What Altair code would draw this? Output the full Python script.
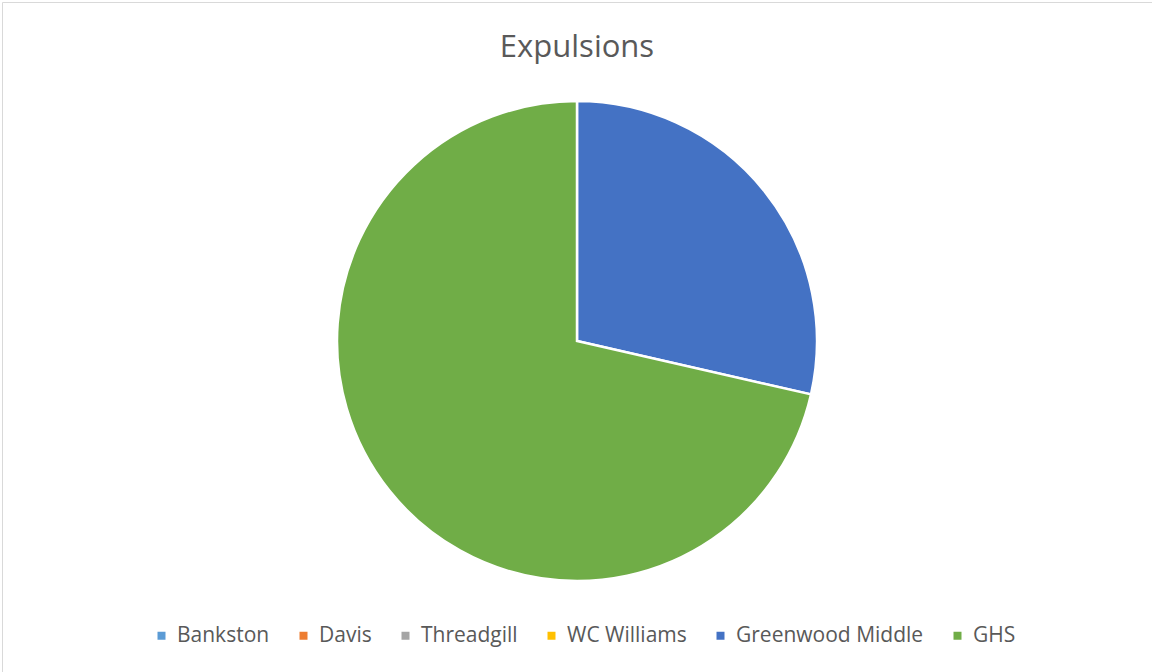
import altair as alt
import pandas as pd

schools = ["Bankston", "Davis", "Threadgill", "WC Williams", "Greenwood Middle", "GHS"]
expulsions = [0, 0, 0, 0, 2, 5]
colors = ["#5B9BD5", "#ED7D31", "#A5A5A5", "#FFC000", "#4472C4", "#70AD47"]
title_text = ["Expulsions"]

df = pd.DataFrame({"school": schools, "value": expulsions, "idx": list(range(len(schools)))})

pie = alt.Chart(df).mark_arc(radius=240, stroke="white", strokeWidth=2.5).encode(
    theta=alt.Theta("value:Q", stack=True),
    color=alt.Color(
        "school:N",
        scale=alt.Scale(domain=schools, range=colors),
        sort=schools,
        legend=alt.Legend(
            title=None,
            orient="none",
            legendX=151,
            legendY=625,
            direction="horizontal",
            symbolType="square",
            symbolSize=64,
            symbolStrokeWidth=0,
            labelFontSize=21,
            labelFont="Open Sans",
            labelColor="#595959",
            labelLimit=400,
            columnPadding=23,
            labelOffset=5,
        ),
    ),
    order=alt.Order("idx:Q"),
    x=alt.value(577),
    y=alt.value(341),
)

title = alt.Chart(pd.DataFrame({"t": title_text})).mark_text(
    fontSize=31, font="Open Sans", color="#595959", baseline="alphabetic"
).encode(text="t:N", x=alt.value(577), y=alt.value(57))

border = alt.Chart(pd.DataFrame({"a": [0]})).mark_rect(
    fillOpacity=0, stroke="#d9d9d9", strokeWidth=1
).encode(x=alt.value(2.5), x2=alt.value(1300), y=alt.value(2.5), y2=alt.value(800))

chart = alt.layer(border, pie, title).properties(
    width=1152, height=672, autosize="none", padding=0, background="white"
).configure_view(strokeWidth=0)

chart.save("out.html", embed_options={"renderer": "svg", "actions": False})
